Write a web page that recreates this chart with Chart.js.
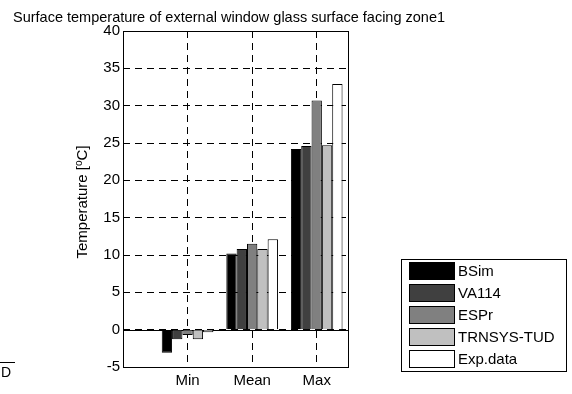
<!DOCTYPE html>
<html>
<head>
<meta charset="utf-8">
<script src="https://cdn.jsdelivr.net/npm/chart.js@4.4.1/dist/chart.umd.min.js"></script>
<style>
  html, body { margin: 0; padding: 0; background: #fff; }
  #holder { width: 572px; height: 394px; }
</style>
</head>
<body>
<div id="holder"><canvas id="bar" width="572" height="394"></canvas></div>
<script>
    // categories and series
    var categories = ["Min", "Mean", "Max"];
    var bsim     = [-3.1, 10.2, 24.2];
    var va114    = [-1.3, 10.8, 24.6];
    var espr     = [-0.7, 11.5, 30.7];
    var trnsys   = [-1.3, 10.8, 24.7];
    var expdata  = [-0.35, 12.1, 32.9];
    var yTicks   = [-5, 0, 5, 10, 15, 20, 25, 30, 35, 40];

    var titleText = "Surface temperature of external window glass surface facing zone1";
    var font = "'Liberation Sans', Arial, sans-serif";

    function series(label, values, color) {
        return {
            label: label,
            data: values.map(function(v, i) { return {x: i + 1, y: v}; }),
            backgroundColor: color,
            borderColor: "#000",
            borderWidth: 1,
            categoryPercentage: 0.8,
            barPercentage: 1.0
        };
    }

    var data = {
        datasets: [
            series("BSim", bsim, "#000000"),
            series("VA114", va114, "#404040"),
            series("ESPr", espr, "#808080"),
            series("TRNSYS-TUD", trnsys, "#c0c0c0"),
            series("Exp.data", expdata, "#ffffff")
        ]
    };

    //frame, zero line, title, y label and the legend box
    var extras = {
        id: "extras",
        beforeDatasetsDraw: function(chart) {
            var ctx = chart.ctx, a = chart.chartArea;
            var y0 = Math.round(chart.scales.y.getPixelForValue(0)) + 0.5;
            ctx.save();
            ctx.strokeStyle = "#000";
            ctx.lineWidth = 1;
            ctx.beginPath();
            ctx.moveTo(a.left, y0);
            ctx.lineTo(a.right, y0);
            ctx.stroke();
            ctx.restore();
        },
        afterDraw: function(chart) {
            var ctx = chart.ctx, a = chart.chartArea;
            ctx.save();
            ctx.strokeStyle = "#000";
            ctx.lineWidth = 1;
            ctx.strokeRect(Math.round(a.left) + 0.5, Math.round(a.top) + 0.5,
                Math.round(a.right - a.left) - 1, Math.round(a.bottom - a.top));

            ctx.fillStyle = "#000";
            ctx.font = "14.5px " + font;
            ctx.textAlign = "left";
            ctx.textBaseline = "alphabetic";
            ctx.fillText(titleText, 13, 21.5);

            // y label with superscript o
            ctx.save();
            ctx.translate(83, 202);
            ctx.rotate(-Math.PI / 2);
            ctx.textBaseline = "middle";
            var p1 = "Temperature [", p2 = "o", p3 = "C]";
            ctx.font = "15px " + font;
            var w1 = ctx.measureText(p1).width, w3 = ctx.measureText(p3).width;
            ctx.font = "10px " + font;
            var w2 = ctx.measureText(p2).width;
            var x = -(w1 + w2 + w3) / 2;
            ctx.font = "15px " + font;
            ctx.fillText(p1, x, 0);
            ctx.font = "10px " + font;
            ctx.fillText(p2, x + w1, -4);
            ctx.font = "15px " + font;
            ctx.fillText(p3, x + w1 + w2, 0);
            ctx.restore();

            // legend
            ctx.fillStyle = "#fff";
            ctx.fillRect(401.5, 259.5, 165, 112);
            ctx.strokeRect(401.5, 259.5, 165, 112);
            ctx.font = "15px " + font;
            ctx.textBaseline = "middle";
            chart.data.datasets.forEach(function(ds, i) {
                var top = 262.5 + 22 * i;
                ctx.fillStyle = ds.backgroundColor;
                ctx.fillRect(409.5, top, 45, 17);
                ctx.strokeRect(409.5, top, 45, 17);
                ctx.fillStyle = "#000";
                ctx.fillText(ds.label, 458, top + 9);
            });

            // leftover of the neighbouring figure at the bottom left
            ctx.beginPath();
            ctx.moveTo(0, 362.5);
            ctx.lineTo(15, 362.5);
            ctx.stroke();
            ctx.font = "14px " + font;
            ctx.textBaseline = "alphabetic";
            ctx.fillText("D", 1, 377);
            ctx.restore();
        }
    };

    var options = {
        responsive: false,
        animation: false,
        layout: { padding: { left: 0, right: 223, top: 31, bottom: 0 } },
        plugins: { legend: { display: false }, tooltip: { enabled: false } },
        scales: {
            x: {
                type: "linear",
                min: 0,
                max: 3.5,
                offset: false,
                afterBuildTicks: function(scale) {
                    scale.ticks = categories.map(function(c, i) { return {value: i + 1}; });
                },
                afterFit: function(scale) { scale.height = 27; },
                ticks: {
                    padding: 5,
                    color: "#000",
                    font: { family: font, size: 15 },
                    maxRotation: 0,
                    autoSkip: false,
                    callback: function(v) { return categories[v - 1] || ""; }
                },
                grid: { color: "#000", lineWidth: 1, drawTicks: false, offset: false },
                border: { display: false, dash: [7, 5] }
            },
            y: {
                min: -5,
                max: 40,
                afterBuildTicks: function(scale) {
                    scale.ticks = yTicks.map(function(v) { return {value: v}; });
                },
                afterFit: function(scale) { scale.width = 123; },
                ticks: {
                    padding: 3,
                    color: "#000",
                    font: { family: font, size: 15 }
                },
                grid: { color: "#000", lineWidth: 1, drawTicks: false },
                border: { display: false, dash: [7, 5] }
            }
        }
    };

    var bar = document.getElementById("bar").getContext("2d");
    new Chart(bar, { type: "bar", data: data, options: options, plugins: [extras] });
</script>
</body>
</html>
